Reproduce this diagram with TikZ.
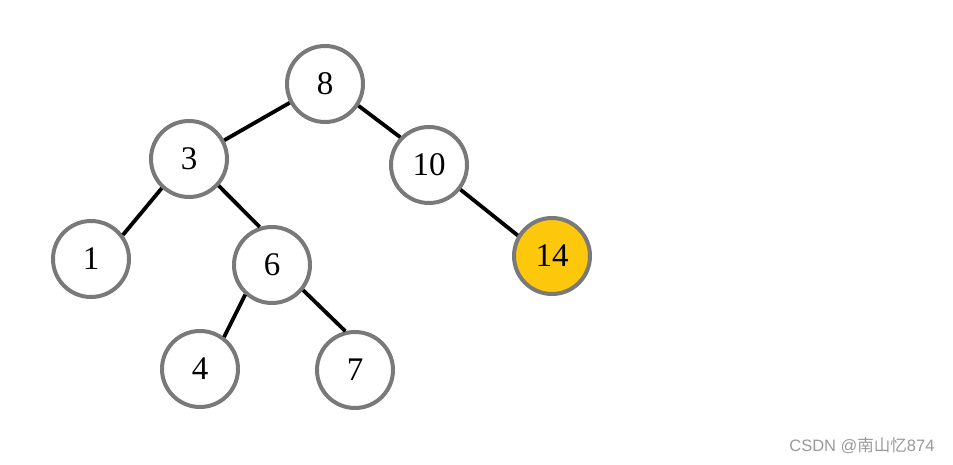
\documentclass[tikz,border=0pt]{standalone}
\usepackage{fontspec}
\setmainfont{Liberation Serif}
\newfontfamily\cjkfont{Noto Sans CJK SC}
\usepackage{tikz}
\usetikzlibrary{positioning}
\definecolor{hotyellow}{HTML}{FDC70C}

\begin{document}
\begin{tikzpicture}[
  x=1pt, y=-1pt,
  nd/.style={draw=gray!95!black, circle, line width=4pt, fill=white,
             minimum size=76pt, inner sep=0pt, font=\fontsize{33}{36}\selectfont},
  hot/.style={nd, fill=hotyellow},
  edg/.style={line width=3.8pt, black},
  wm/.style={font=\fontspec{Liberation Sans}\fontsize{16.5}{18}\selectfont, text=gray!80},
]
\useasboundingbox (0,0) rectangle (953,465);

% ---- Tree nodes -----------------------------------------------------------
\node[nd]  (n8)  at (325, 84)  {8};
\node[nd]  (n3)  at (189,159)  {3};
\node[nd]  (n10) at (429,165)  {10};
\node[nd]  (n1)  at ( 91,259)  {1};
\node[nd]  (n6)  at (272,265)  {6};
\node[hot] (n14) at (552,256)  {14};
\node[nd]  (n4)  at (200,369)  {4};
\node[nd]  (n7)  at (355,370)  {7};

% ---- Edges ----------------------------------------------------------------
\draw[edg] (n8.-152) -- (n3.28);
\draw[edg] (n8.-33)  -- (n10.136);
\draw[edg] (n3.-133) -- (n1.37);
\draw[edg] (n3.-42)  -- (n6.108);
\draw[edg] (n10.-38) -- (n14.149);
\draw[edg] (n6.-132) -- (n4.53);
\draw[edg] (n6.-39)  -- (n7.104);

% ---- Watermark ------------------------------------------------------------
\node[wm, anchor=east] (mark) at (938,446) {CSDN @{\cjkfont 南山忆}874};

\end{tikzpicture}
\end{document}
